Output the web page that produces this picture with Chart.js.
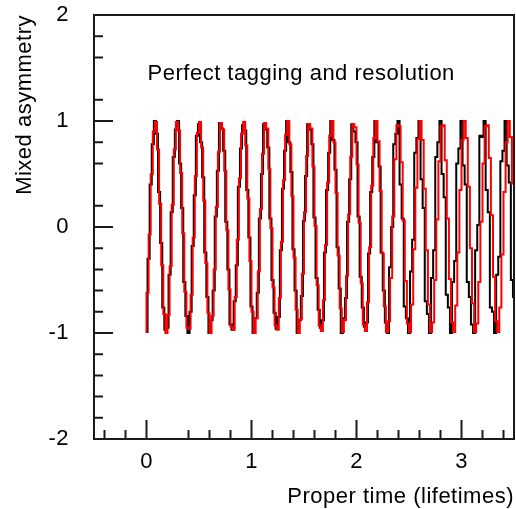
<!DOCTYPE html>
<html><head><meta charset="utf-8">
<script src="https://cdn.jsdelivr.net/npm/chart.js@4"></script>
<style>html,body{margin:0;padding:0;background:#fff}#wrap{width:516px;height:509px}</style>
</head><body><div id="wrap"><canvas id="c" width="516" height="509"></canvas></div>
<script>
// ---- data ----
const redBinStart = 0, redBinWidth = 0.02;
const redValues = [-0.62,-0.07,0.50,0.90,0.99,0.73,0.22,-0.36,-0.82,-1.00,
-0.83,-0.37,0.21,0.73,0.99,0.91,0.51,-0.06,-0.61,-0.95,
-0.96,-0.64,-0.10,0.48,0.89,0.99,0.75,0.25,-0.34,-0.81,
-1.00,-0.84,-0.40,0.19,0.71,0.98,0.92,0.53,-0.03,-0.59,
-0.94,-0.97,-0.66,-0.12,0.46,0.88,0.99,0.77,0.27,-0.32,
-0.80,-1.00,-0.86,-0.42,0.17,0.69,0.98,0.93,0.55,-0.01,
-0.57,-0.93,-0.97,-0.67,-0.14,0.44,0.87,1.00,0.78,0.29,
-0.29,-0.78,-1.00,-0.87,-0.44,0.14,0.67,0.97,0.93,0.57,
0.01,-0.55,-0.93,-0.98,-0.69,-0.17,0.42,0.86,1.00,0.80,
0.32,-0.27,-0.77,-0.99,-0.88,-0.46,0.12,0.66,0.97,0.94,
0.59,0.04,-0.53,-0.92,-0.98,-0.71,-0.19,0.39,0.84,1.00,
0.81,0.34,-0.25,-0.75,-0.99,-0.89,-0.48,0.10,0.64,0.96,
0.95,0.61,0.06,-0.51,-0.91,-0.99,-0.73,-0.21,0.37,0.83,
1.00,0.82,0.36,-0.22,-0.73,-0.99,-0.90,-0.50,0.07,0.62,
0.95,0.96,0.63,0.08,-0.49,-0.90,-0.99,-0.74,-0.24,0.35,
0.82,1.00,0.84,0.38,-0.20,-0.72,-0.99,-0.91,-0.52,0.05,
0.60,0.95,0.96,0.65,0.11,-0.47,-0.89,-0.99,-0.76,-0.26,
0.33,0.80,1.00,0.85,0.41];
const blackBinStart = 0.01, blackBinWidth = 0.02;
const blackValues = [-0.30,0.40,0.78,1.00,0.88,0.33,-0.15,-0.76,-0.97,-0.95,
-0.45,0.14,0.66,0.92,1.00,0.60,0.18,-0.52,-0.84,-1.00,
-0.80,-0.18,0.30,0.86,0.97,0.80,0.47,-0.24,-0.66,-1.00,
-0.88,-0.60,0.10,0.53,0.98,0.93,0.72,0.05,-0.40,-0.92,
-0.97,-0.70,-0.36,0.38,0.74,0.96,0.91,0.35,-0.10,-0.75,
-1.00,-0.86,-0.62,0.08,0.50,0.97,0.92,0.75,0.08,-0.50,
-0.81,-0.96,-0.85,-0.22,0.36,0.72,1.00,0.80,0.52,-0.21,
-0.60,-1.00,-0.88,-0.65,0.06,0.48,0.97,0.92,0.78,0.09,
-0.48,-0.78,-0.95,-0.88,-0.24,0.35,0.70,1.00,0.82,0.54,
-0.19,-0.58,-1.00,-0.86,-0.67,0.05,0.45,0.97,0.90,0.80,
0.10,-0.47,-0.76,-0.94,-0.90,-0.25,0.33,0.66,1.00,0.80,
0.57,-0.24,-0.60,-0.90,-1.00,-0.38,0.00,0.78,0.88,1.00,
0.40,0.08,-0.75,-0.86,-1.00,-0.42,-0.12,0.70,0.84,1.00,
0.45,0.18,-0.70,-0.82,-1.00,-0.48,-0.22,0.66,0.80,1.00,
0.50,0.28,-0.64,-0.76,-1.00,-0.52,-0.32,0.60,0.74,1.00,
0.58,0.40,-0.52,-0.66,-0.92,-1.00,-0.22,0.02,0.86,0.85,
1.00,0.35,0.14,-0.76,-0.80,-1.00,-0.45,-0.28,0.62,0.72,
1.00,0.58,0.42,-0.50,-0.66];
const histStartLevel = -1;
const xTickValues = [0, 1, 2, 3];
const xTickLabels = ['0', '1', '2', '3'];
const xMinorTicks = [-0.4,-0.2,0.4,0.6,0.8,1.2,1.4,1.6,1.8,2.2,2.4,2.6,2.8,3.2,3.4];
const yTickValues = [-2, -1, 0, 1, 2];
const yTickLabels = ['-2', '-1', '0', '1', '2'];
const yMinorTicks = [-1.8,-1.6,-1.4,-1.2,-0.8,-0.6,-0.4,-0.2,0.2,0.6,0.8,1.2,1.6,1.8];
const xTitle = 'Proper time (lifetimes)';
const yTitle = 'Mixed asymmetry';
const annotationText = 'Perfect tagging and resolution';

// ---- build histogram step points ----
function histPoints(start, width, values) {
  const pts = [{x: start, y: histStartLevel}];
  values.forEach((v, i) => pts.push({x: start + (i + 1) * width, y: v}));
  return pts;
}

const FONT = "'Liberation Sans', Arial, Helvetica, sans-serif";

const spacingPlugin = {
  id: 'spacing',
  beforeInit(chart) { chart.ctx.letterSpacing = '0.5px'; },
  beforeDraw(chart) { chart.ctx.letterSpacing = '0.5px'; }
};

const framePlugin = {
  id: 'frame',
  afterDatasetsDraw(chart) {
    const {ctx, chartArea: a, scales: {x, y}} = chart;
    ctx.save();
    ctx.strokeStyle = '#1a1a1a';
    ctx.lineWidth = 2;
    ctx.strokeRect(a.left, a.top, a.right - a.left, a.bottom - a.top);
    ctx.beginPath();
    const majorLen = 19, minorLen = 9;
    xTickValues.forEach(v => { const p = x.getPixelForValue(v); ctx.moveTo(p, a.bottom); ctx.lineTo(p, a.bottom - majorLen); });
    xMinorTicks.forEach(v => { const p = x.getPixelForValue(v); ctx.moveTo(p, a.bottom); ctx.lineTo(p, a.bottom - minorLen); });
    yTickValues.forEach(v => { const p = y.getPixelForValue(v); ctx.moveTo(a.left, p); ctx.lineTo(a.left + majorLen, p); });
    yMinorTicks.forEach(v => { const p = y.getPixelForValue(v); ctx.moveTo(a.left, p); ctx.lineTo(a.left + minorLen, p); });
    ctx.stroke();
    ctx.fillStyle = '#000';
    ctx.font = '22px ' + FONT;
    ctx.letterSpacing = '0.5px';
    ctx.textAlign = 'left';
    ctx.textBaseline = 'middle';
    ctx.fillText(annotationText, x.getPixelForValue(0.01), y.getPixelForValue(1.44));
    ctx.restore();
  }
};

function zeroPad(s) { s.paddingTop = 0; s.paddingBottom = 0; s.paddingLeft = 0; s.paddingRight = 0; }

new Chart(document.getElementById('c'), {
  type: 'line',
  data: {
    datasets: [
      {label: 'expected', data: histPoints(redBinStart, redBinWidth, redValues),
       borderColor: '#ff0000', borderWidth: 2, pointRadius: 0, stepped: 'after', fill: false},
      {label: 'data', data: histPoints(blackBinStart, blackBinWidth, blackValues),
       borderColor: '#000000', borderWidth: 2, pointRadius: 0, stepped: 'after', fill: false}
    ]
  },
  options: {
    responsive: false, animation: false, devicePixelRatio: 1,
    layout: {padding: {left: 0, right: 2, top: 15, bottom: 0}},
    plugins: {legend: {display: false}, tooltip: {enabled: false}, title: {display: false}},
    scales: {
      x: {
        type: 'linear', min: -0.5, max: 3.5, position: 'bottom',
        grid: {display: false, drawTicks: false}, border: {display: false},
        afterBuildTicks: s => { s.ticks = xTickValues.map(v => ({value: v})); },
        afterFit: s => { s.height = 70; zeroPad(s); },
        ticks: {autoSkip: false, maxRotation: 0, padding: 10, color: '#000',
          font: {family: FONT, size: 22},
          callback: v => xTickLabels[xTickValues.indexOf(v)]},
        title: {display: true, text: xTitle, align: 'end', color: '#000',
          font: {family: FONT, size: 22}, padding: {top: 0, bottom: -1}}
      },
      y: {
        type: 'linear', min: -2, max: 2,
        grid: {display: false, drawTicks: false}, border: {display: false},
        afterBuildTicks: s => { s.ticks = yTickValues.map(v => ({value: v})); },
        afterFit: s => { s.width = 94; zeroPad(s); },
        ticks: {autoSkip: false, padding: 25, color: '#000',
          font: {family: FONT, size: 22},
          callback: v => yTickLabels[yTickValues.indexOf(v)]},
        title: {display: true, text: yTitle, align: 'end', color: '#000',
          font: {family: FONT, size: 22}, padding: {top: 12, bottom: 0}}
      }
    }
  },
  plugins: [spacingPlugin, framePlugin]
});
</script></body></html>
